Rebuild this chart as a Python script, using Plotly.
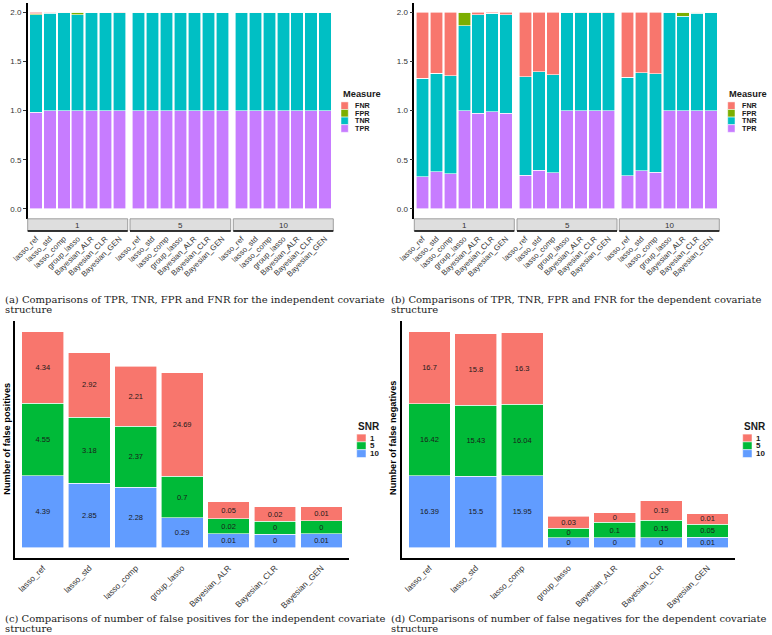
import numpy as np
import plotly.graph_objects as go

W, H = 772, 635


def px(x):
    return x / W


def py(y):
    return 1 - y / H


# ---------------- data ----------------
methods = ["lasso_ref", "lasso_std", "lasso_comp", "group_lasso",
           "Bayesian_ALR", "Bayesian_CLR", "Bayesian_GEN"]
snr_levels = ["1", "5", "10"]
measures = ["TPR", "TNR", "FPR", "FNR"]          # stacking order, bottom -> top
legend_measures = ["FNR", "FPR", "TNR", "TPR"]

# independent covariate structure (SNR 1 | SNR 5 | SNR 10), 7 methods each
ind_TPR = [0.985, 0.997, 1.0, 1.0, 1.0, 1.0, 0.997,
           1.0, 1.0, 1.0, 1.0, 1.0, 1.0, 1.0,
           1.0, 1.0, 1.0, 1.0, 1.0, 1.0, 1.0]
ind_TNR = [0.99, 0.995, 0.995, 0.973, 1.0, 1.0, 1.0,
           0.996, 0.996, 0.996, 1.0, 1.0, 1.0, 1.0,
           0.996, 0.996, 0.996, 1.0, 1.0, 1.0, 1.0]
ind_FPR = [0.01, 0.005, 0.005, 0.027, 0.0, 0.0, 0.0,
           0.004, 0.004, 0.004, 0.0, 0.0, 0.0, 0.0,
           0.004, 0.004, 0.004, 0.0, 0.0, 0.0, 0.0]
ind_FNR = [0.015, 0.003, 0.0, 0.0, 0.0, 0.0, 0.003,
           0.0, 0.0, 0.0, 0.0, 0.0, 0.0, 0.0,
           0.0, 0.0, 0.0, 0.0, 0.0, 0.0, 0.0]

# dependent covariate structure
dep_TPR = [0.33, 0.378, 0.357, 1.0, 0.973, 0.99, 0.976,
           0.345, 0.395, 0.367, 1.0, 0.997, 0.997, 0.997,
           0.34, 0.388, 0.375, 1.0, 1.0, 1.0, 1.0]
dep_TNR = [1.0, 1.0, 1.0, 0.865, 1.0, 1.0, 1.0,
           1.0, 1.0, 1.0, 1.0, 1.0, 1.0, 1.0,
           1.0, 1.0, 1.0, 1.0, 0.96, 0.99, 1.0]
dep_FPR = [0.0, 0.0, 0.0, 0.135, 0.0, 0.0, 0.0,
           0.0, 0.0, 0.0, 0.0, 0.0, 0.0, 0.0,
           0.0, 0.0, 0.0, 0.0, 0.04, 0.01, 0.0]
dep_FNR = [0.67, 0.622, 0.643, 0.0, 0.027, 0.01, 0.024,
           0.655, 0.605, 0.633, 0.0, 0.003, 0.003, 0.003,
           0.66, 0.612, 0.625, 0.0, 0.0, 0.0, 0.0]

# number of false positives (independent) per SNR
fp_snr1 = [4.34, 2.92, 2.21, 24.69, 0.05, 0.02, 0.01]
fp_snr5 = [4.55, 3.18, 2.37, 0.7, 0.02, 0, 0]
fp_snr10 = [4.39, 2.85, 2.28, 0.29, 0.01, 0, 0.01]

# number of false negatives (dependent) per SNR
fn_snr1 = [16.7, 15.8, 16.3, 0.03, 0, 0.19, 0.01]
fn_snr5 = [16.42, 15.43, 16.04, 0, 0.1, 0.15, 0.05]
fn_snr10 = [16.39, 15.5, 15.95, 0, 0, 0, 0.01]

captions = {
    "a": "(a) Comparisons of TPR, TNR, FPR and FNR for the independent covariate",
    "b": "(b) Comparisons of TPR, TNR, FPR and FNR for the dependent covariate",
    "c": "(c) Comparisons of number of false positives for the independent covariate",
    "d": "(d) Comparisons of number of false negatives for the dependent covariate",
}

# ---------------- styles ----------------
measure_colors = {"TPR": "#C77CFF", "TNR": "#00BFC4", "FPR": "#7CAE00", "FNR": "#F8766D"}
snr_colors = {"1": "#F8766D", "5": "#00BA38", "10": "#619CFF"}
SANS = "Liberation Sans, Arial, sans-serif"
SERIF = "DejaVu Serif, serif"
TXT = "#1a1a1a"
TICK = "#333333"


def pseudo_log(v):
    """Segment height on the pseudo-log value scale used by panels (c) and (d)."""
    return float(np.log(10 * v + 2))


fig = go.Figure()

# ---------------- top panels ----------------
top_data = {
    "ind": {"TPR": ind_TPR, "TNR": ind_TNR, "FPR": ind_FPR, "FNR": ind_FNR},
    "dep": {"TPR": dep_TPR, "TNR": dep_TNR, "FPR": dep_FPR, "FNR": dep_FNR},
}
top_axes = {"ind": (["x", "x2", "x3"], "y"), "dep": (["x4", "x5", "x6"], "y2")}

for key in ["ind", "dep"]:
    xs, ya = top_axes[key]
    for f, snr in enumerate(snr_levels):
        for m in measures:
            vals = top_data[key][m][f * 7:(f + 1) * 7]
            fig.add_trace(go.Bar(
                x=methods, y=vals, name=m, width=0.9,
                marker=dict(color=measure_colors[m], line=dict(color="white", width=0.6)),
                xaxis=xs[f], yaxis=ya, showlegend=False,
            ))

# ---------------- bottom panels ----------------
bottom_sets = [
    ("x7", "y3", {"1": fp_snr1, "5": fp_snr5, "10": fp_snr10}),
    ("x8", "y4", {"1": fn_snr1, "5": fn_snr5, "10": fn_snr10}),
]
bottom_max = []
for xa, ya, d in bottom_sets:
    totals = np.zeros(len(methods))
    for snr in ["10", "5", "1"]:
        h = [pseudo_log(v) for v in d[snr]]
        totals += np.array(h)
        fig.add_trace(go.Bar(
            x=methods, y=h, name=snr, width=0.9,
            text=[f"{v:g}" for v in d[snr]],
            textposition="inside", insidetextanchor="middle", textangle=0,
            textfont=dict(family=SANS, size=7.5, color=TXT),
            marker=dict(color=snr_colors[snr], line=dict(color="white", width=0.6)),
            xaxis=xa, yaxis=ya, showlegend=False,
        ))
    bottom_max.append(totals.max())

# ---------------- axes ----------------
top_y_dom = [py(218.8), py(2.5)]
bot_y_dom = [py(558.3), py(320.7)]
top_facets = {
    "xaxis": (27.7, 127.7), "xaxis2": (130.0, 230.7), "xaxis3": (233.3, 333.3),
    "xaxis4": (414.3, 514.3), "xaxis5": (517.0, 617.0), "xaxis6": (619.3, 719.3),
}
layout = {}
for name, (a, b) in top_facets.items():
    layout[name] = dict(
        domain=[px(a), px(b)], anchor="y" if name in ("xaxis", "xaxis2", "xaxis3") else "y2",
        range=[-0.6, 6.6], type="category", categoryorder="array", categoryarray=methods,
        tickangle=-45, tickfont=dict(family=SANS, size=7.8, color=TICK),
        ticks="", ticklabelstandoff=13, showline=False, showgrid=False, zeroline=False,
        automargin=False,
    )
for name, anchor in [("yaxis", "x"), ("yaxis2", "x4")]:
    layout[name] = dict(
        domain=top_y_dom, anchor=anchor, range=[-0.1, 2.1],
        tickvals=[0, 0.5, 1, 1.5, 2], ticktext=["0.0", "0.5", "1.0", "1.5", "2.0"],
        tickfont=dict(family=SANS, size=8, color=TICK),
        ticks="outside", ticklen=3, tickcolor="#333", tickwidth=1,
        showline=True, linecolor="black", linewidth=1.5,
        showgrid=False, zeroline=False, automargin=False,
    )
for name, (a, b), anchor in [("xaxis7", (15.0, 349.3), "y3"), ("xaxis8", (401.7, 735.3), "y4")]:
    layout[name] = dict(
        domain=[px(a), px(b)], anchor=anchor, range=[-0.6, 6.6], type="category",
        categoryorder="array", categoryarray=methods,
        tickangle=-45, tickfont=dict(family=SANS, size=8.3, color=TICK),
        ticks="", showline=True, linecolor="black", linewidth=1.5,
        showgrid=False, zeroline=False, automargin=False,
    )
for i, (name, anchor) in enumerate([("yaxis3", "x7"), ("yaxis4", "x8")]):
    M = bottom_max[i]
    layout[name] = dict(
        domain=bot_y_dom, anchor=anchor, range=[-0.05 * M, 1.05 * M],
        showticklabels=False, ticks="", showline=True, linecolor="black", linewidth=1.5,
        showgrid=False, zeroline=False, automargin=False,
    )

shapes = []
annotations = []

# facet strips
for name in top_facets:
    ref = "x" + (name[5:] if len(name) > 5 else "") + " domain"
    shapes.append(dict(type="rect", xref=ref, yref="paper", x0=0, x1=1,
                       y0=py(231.0), y1=py(218.8), fillcolor="#dedede",
                       line=dict(color="#8a8a8a", width=0.8), layer="above"))
    shapes.append(dict(type="line", xref=ref, yref="paper", x0=0, x1=1,
                       y0=py(231.0), y1=py(231.0), line=dict(color="black", width=1.6)))
for name, lab in zip(top_facets, snr_levels * 2):
    ref = "x" + (name[5:] if len(name) > 5 else "") + " domain"
    annotations.append(dict(xref=ref, yref="paper", x=0.5, y=py(225), text=lab,
                            showarrow=False, font=dict(family=SANS, size=8, color=TICK),
                            xanchor="center", yanchor="middle"))


# manual legends
def add_legend(title, title_size, x_key, key_w, y_title, centers, key_h, labels, colors, lab_x, lab_size):
    annotations.append(dict(xref="paper", yref="paper", x=px(x_key - 0.5), y=py(y_title),
                            text=f"<b>{title}</b>", showarrow=False, xanchor="left", yanchor="middle",
                            font=dict(family=SANS, size=title_size, color=TXT)))
    for c, lab, col in zip(centers, labels, colors):
        shapes.append(dict(type="rect", xref="paper", yref="paper",
                           x0=px(x_key), x1=px(x_key + key_w),
                           y0=py(c + key_h / 2), y1=py(c - key_h / 2),
                           fillcolor=col, line=dict(color="white", width=0.5)))
        annotations.append(dict(xref="paper", yref="paper", x=px(lab_x), y=py(c),
                                text=f"<b>{lab}</b>", showarrow=False, xanchor="left", yanchor="middle",
                                font=dict(family=SANS, size=lab_size, color=TXT)))


for x0 in (341.0, 727.7):
    add_legend("Measure", 9.3, x0, 7.3, 93.7, [105.7, 113.3, 120.9, 128.5], 7.6,
               legend_measures, [measure_colors[m] for m in legend_measures], x0 + 12.3, 7.2)
for x0 in (356.7, 742.7):
    add_legend("SNR", 10, x0, 9.3, 426.0, [438.0, 445.8, 453.6], 7.8,
               snr_levels, [snr_colors[s] for s in snr_levels], x0 + 11.6, 8.0)

# y-axis titles of bottom panels
annotations.append(dict(xref="paper", yref="paper", x=px(6.7), y=py(439), textangle=-90,
                        xanchor="center", yanchor="middle",
                        text="<b>Number of false positives</b>", showarrow=False,
                        font=dict(family=SANS, size=9.2, color="black")))
annotations.append(dict(xref="paper", yref="paper", x=px(393), y=py(438), textangle=-90,
                        xanchor="center", yanchor="middle",
                        text="<b>Number of false negatives</b>", showarrow=False,
                        font=dict(family=SANS, size=9.2, color="black")))

# captions
for key, x0, y1 in [("a", 3, 299), ("b", 389.3, 299), ("c", 3, 618.3), ("d", 389.3, 618.3)]:
    annotations.append(dict(xref="paper", yref="paper", x=px(x0), y=py(y1), text=captions[key],
                            showarrow=False, xanchor="left", yanchor="middle",
                            font=dict(family=SERIF, size=10, color="#222")))
    annotations.append(dict(xref="paper", yref="paper", x=px(x0), y=py(y1 + 10.3), text="structure",
                            showarrow=False, xanchor="left", yanchor="middle",
                            font=dict(family=SERIF, size=10, color="#222")))

fig.update_layout(
    template="none",
    width=W, height=H, margin=dict(l=0, r=0, t=0, b=0, autoexpand=False),
    paper_bgcolor="white", plot_bgcolor="white",
    barmode="stack", bargap=0.1,
    uniformtext=dict(minsize=7.5, mode="show"),
    shapes=shapes, annotations=annotations, showlegend=False,
    **layout,
)

fig.write_html(
    "out.html",
    config={"displayModeBar": False},
    post_script="document.body.style.margin='0';document.body.style.padding='0';",
)
